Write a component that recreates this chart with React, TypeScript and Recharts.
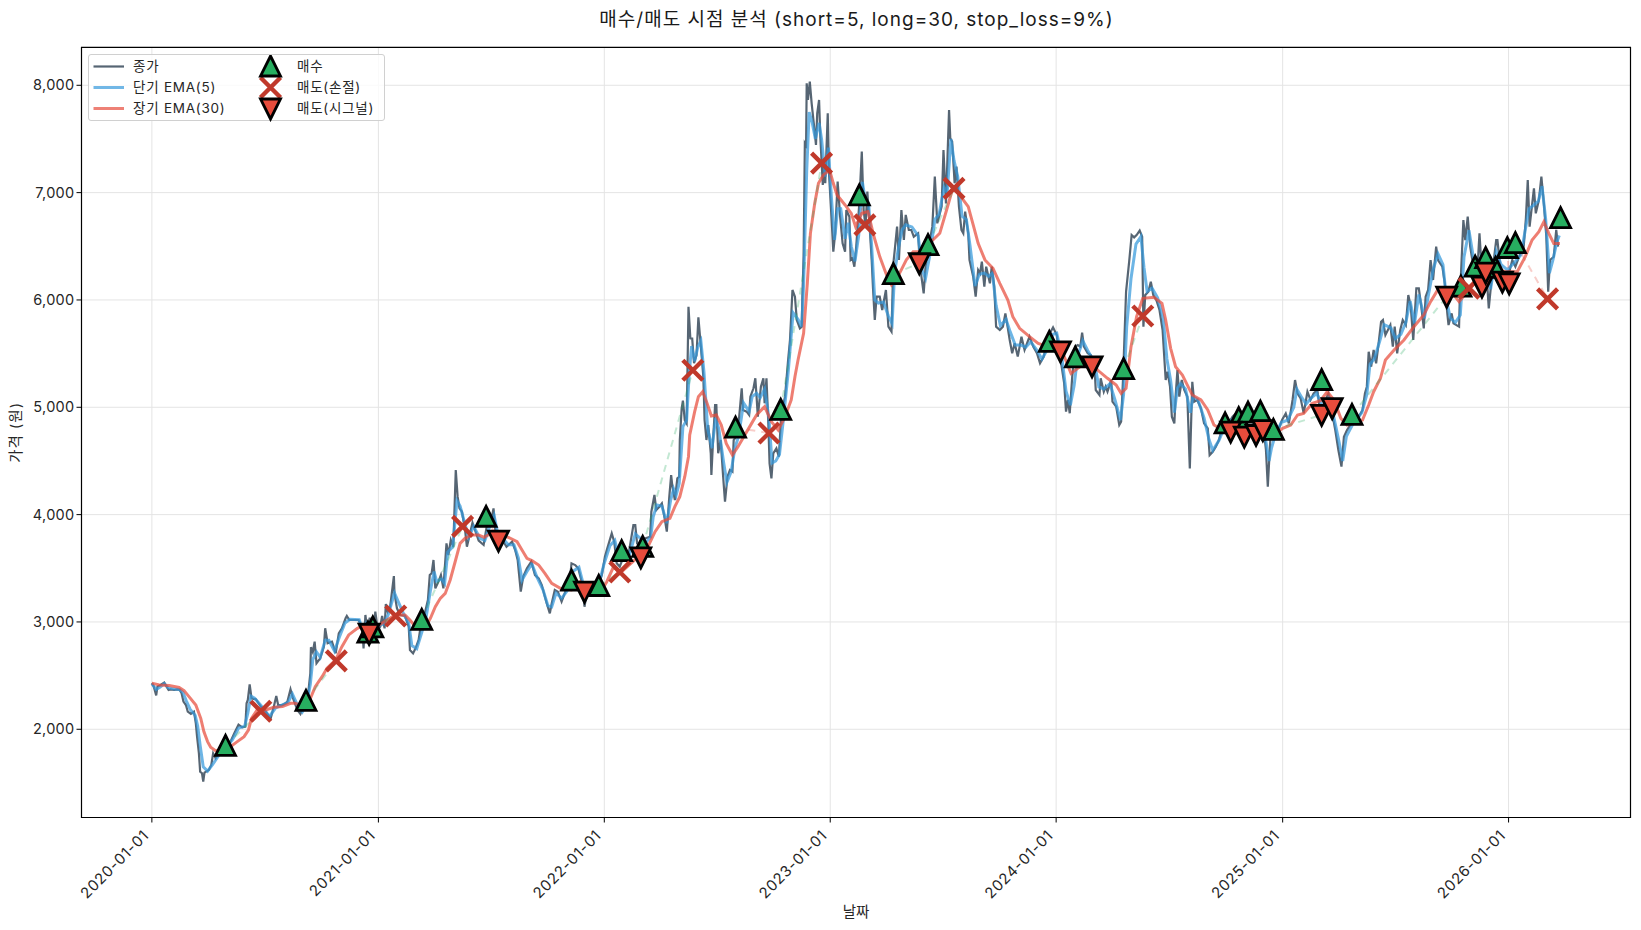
import React from 'react';
import { ComposedChart, Line, Scatter, XAxis, YAxis, CartesianGrid, ReferenceArea, Legend } from 'recharts';

type Pt = [number, number];
const toRows = (pts: Pt[]) => pts.map(([d, v]) => ({ d, v }));

const xTickDays = [0, 366, 731, 1096, 1461, 1827, 2192];
const xTickLabels = ['2020-01-01', '2021-01-01', '2022-01-01', '2023-01-01', '2024-01-01', '2025-01-01', '2026-01-01'];
const yTicks = [2000, 3000, 4000, 5000, 6000, 7000, 8000];

const closeSeries: Pt[] = [
[0,2430],[3,2400],[7,2316],[9,2397],[14,2413],[20,2435],[23,2404],[27,2366],[30,2372],[36,2366],[41,2372],[45,2366],[48,2335],[51,2258],[55,2226],[58,2164],[63,2143],[68,2164],[71,2056],[73,1931],[76,1776],[78,1605],[81,1590],[83,1512],[85,1596],[92,1621],[96,1667],[99,1776],[103,1730],[111,1807],[119,1838],[127,1885],[133,1962],[140,2043],[146,2018],[151,2025],[153,2242],[155,2273],[158,2419],[161,2289],[168,2279],[176,2211],[184,2164],[192,2102],[197,2211],[201,2310],[204,2226],[211,2226],[216,2242],[219,2258],[224,2372],[228,2289],[235,2180],[240,2143],[246,2242],[252,2304],[256,2522],[257,2764],[260,2720],[263,2817],[266,2615],[272,2661],[278,2770],[280,2941],[284,2801],[291,2817],[297,2708],[302,2894],[307,2941],[313,3034],[315,3056],[319,3018],[334,3018],[340,2941],[342,2754],[345,3065],[348,2920],[352,3040],[355,2940],[358,2870],
[361,3096],[365,2925],[369,2956],[372,3055],[376,2940],[378,3167],[381,3096],[385,3142],[391,3428],[392,3266],[396,3127],[401,3065],[409,3055],[415,2956],[417,2738],[422,2707],[426,2754],[431,2832],[435,2987],[441,3080],[446,3204],[449,3437],[452,3453],[455,3577],[458,3313],[463,3375],[467,3437],[471,3313],[476,3732],[479,3624],[483,3763],[487,3701],[491,4416],[494,4167],[497,4058],[501,4027],[506,3857],[509,3701],[514,3825],[518,3925],[522,3857],[528,3757],[536,3717],[541,3888],[547,3903],[552,4058],[556,3779],[561,3763],[568,3748],[573,3701],[582,3748],[587,3670],[591,3577],[596,3282],[600,3422],[606,3499],[613,3561],[619,3437],[625,3406],[630,3344],[635,3235],[638,3173],[643,3080],[646,3173],[651,3298],[656,3282],[662,3189],[669,3298],[674,3313],[678,3546],[684,3530],[689,3499],[695,3360],[699,3142],[703,3282],[711,3313],[719,3298],[727,3437],
[732,3608],[735,3670],[743,3825],[747,3748],[751,3546],[756,3515],[762,3608],[770,3624],[778,3903],[781,3903],[784,3732],[790,3701],[797,3779],[805,3794],[807,4027],[812,4183],[815,4043],[820,4074],[824,4105],[829,3950],[832,3841],[836,4167],[839,4369],[841,4260],[845,4136],[849,4338],[852,4353],[853,4695],[856,4990],[858,5062],[861,4881],[864,4850],[867,5937],[870,5642],[873,5640],[876,5410],[880,5487],[883,5838],[887,5565],[891,5285],[893,4881],[896,4695],[899,4835],[903,4571],[904,4369],[907,4726],[910,5021],[912,5021],[915,4571],[919,4695],[923,4353],[926,4120],[930,4353],[934,4416],[938,4400],[940,4695],[944,4726],[947,4788],[953,5177],[955,4975],[961,4959],[965,4928],[967,5099],[972,5177],[975,5270],[977,5099],[979,4913],[984,5192],[988,5270],[990,5037],[993,5270],[996,4850],[998,4478],[1001,4338],[1004,4571],[1009,4617],[1013,4540],[1017,4944],[1023,5099],[1028,5441],[1031,5627],[1035,6093],[1039,6031],[1042,5813],[1047,5736],
[1050,5751],[1051,6031],[1053,6404],[1055,7460],[1057,7440],[1058,8019],[1060,7863],[1063,8034],[1066,7832],[1070,7615],[1073,7444],[1075,7739],[1078,7863],[1080,7522],[1084,7071],[1086,7242],[1088,7087],[1092,7739],[1094,7180],[1098,6776],[1101,6450],[1104,6621],[1108,7103],[1112,6776],[1116,6528],[1120,6450],[1122,6838],[1127,6776],[1129,6373],[1132,6388],[1135,6310],[1138,6497],[1143,6901],[1147,7382],[1150,6838],[1153,6683],[1156,7009],[1159,6745],[1163,6373],[1165,6124],[1168,5813],[1171,6031],[1176,6031],[1180,5907],[1186,6093],[1190,5751],[1195,5705],[1198,6342],[1200,6450],[1204,6683],[1207,6373],[1211,6838],[1215,6559],[1218,6792],[1223,6652],[1227,6652],[1231,6590],[1238,6621],[1241,6310],[1243,6233],[1247,6062],[1250,6310],[1256,6528],[1261,6683],[1265,7149],[1269,6714],[1276,6870],[1279,7397],[1283,6900],[1288,7770],[1290,7506],[1293,7475],[1297,7087],[1300,7242],[1304,6870],[1308,6652],[1311,6621],[1314,6823],[1319,6621],[1321,6373],[1327,6217],[1331,6031],[1335,6279],[1338,6248],[1341,6357],[1345,6124],[1348,6310],[1354,6155],[1357,6310],[1361,6124],[1364,5751],[1370,5720],[1375,5751],[1379,5875],[1383,5736],[1386,5627],[1390,5503],[1394,5596],[1399,5472],[1405,5658],[1410,5534],[1418,5658],[1424,5565],[1430,5503],[1435,5410],[1441,5472],[1448,5658],
[1456,5745],[1462,5673],[1466,5503],[1470,5378],[1474,5223],[1477,4959],[1480,5068],[1483,4944],[1487,5285],[1492,5565],[1496,5580],[1500,5565],[1503,5695],[1506,5565],[1512,5503],[1517,5487],[1523,5378],[1525,5161],[1531,5114],[1533,5270],[1538,5145],[1541,5192],[1544,5145],[1550,5254],[1552,5052],[1558,5006],[1563,4835],[1566,4866],[1569,5254],[1574,6077],[1579,6357],[1583,6605],[1587,6583],[1591,6605],[1596,6646],[1600,6590],[1602,5751],[1605,6046],[1610,6077],[1614,6170],[1618,6046],[1623,5999],[1628,5906],[1633,5720],[1638,5254],[1641,5332],[1645,5192],[1648,4912],[1652,4850],[1654,5099],[1657,5347],[1660,5099],[1664,5254],[1668,5161],[1673,5099],[1677,4431],[1681,5238],[1684,5052],[1689,5068],[1695,4990],[1700,4850],[1706,4804],[1709,4555],[1714,4586],[1719,4633],[1724,4695],[1730,4820],[1738,4835],[1746,4912],[1757,4975],[1767,4912],[1773,4881],[1781,4850],[1789,4820],[1797,4757],[1800,4602],[1803,4260],[1807,4695],[1813,4757],[1821,4804],
[1826,4881],[1832,4943],[1837,4850],[1843,5068],[1847,5254],[1851,5130],[1856,5083],[1861,4943],[1867,5145],[1872,5068],[1877,5130],[1883,5161],[1888,4943],[1894,5037],[1901,5130],[1907,4943],[1912,4788],[1917,4602],[1922,4447],[1926,4726],[1931,4788],[1938,4850],[1947,4881],[1956,4974],[1960,5130],[1963,5192],[1966,5518],[1970,5378],[1974,5534],[1978,5409],[1982,5596],[1986,5797],[1989,5813],[1993,5673],[2001,5766],[2005,5565],[2008,5751],[2012,5502],[2017,5720],[2021,5813],[2026,5766],[2030,6046],[2034,5937],[2038,5627],[2043,6108],[2047,6108],[2051,5937],[2055,5735],[2058,6031],[2062,6093],[2066,6372],[2070,6186],[2075,6496],[2078,6372],[2085,6310],[2089,6155],[2093,5875],[2095,5766],[2100,5875],[2103,5782],[2112,5751],[2113,5968],[2119,6745],[2122,6558],[2126,6776],[2130,6496],[2136,6279],[2141,6217],[2145,6621],[2149,6248],[2155,6372],[2160,5922],[2165,6217],[2172,6558],[2174,6558],[2179,6279],[2187,6248],[2194,6279],[2198,6372],[2203,6310],[2211,6434],[2216,6465],[2220,6760],[2223,7118],[2226,6683],[2233,7040],[2236,6807],[2241,6931],[2245,7149],[2249,6900],[2253,6590],[2256,6077],[2259,6372],[2265,6403],[2269,6652],[2272,6496]];

const ema5Series: Pt[] = [
[0,2425],[7,2370],[14,2395],[20,2425],[27,2385],[36,2375],[45,2370],[50,2345],[56,2260],[62,2185],[70,2130],[74,2030],[78,1850],[83,1650],[90,1610],[98,1670],[105,1730],[112,1790],[120,1830],[130,1900],[140,2010],[150,2030],[155,2150],[160,2310],[166,2290],[176,2225],[190,2120],[200,2200],[210,2225],[220,2250],[227,2330],[236,2215],[243,2160],[250,2230],[256,2420],[260,2650],[266,2720],[272,2670],[280,2830],[286,2830],[295,2730],[303,2860],[312,2990],[320,3025],[335,3020],[343,2890],[347,2990],[354,2960],[360,2920],[368,2970],[375,2980],[382,3070],[392,3270],[398,3190],[408,3060],[415,2990],[420,2780],[428,2750],[436,2900],[443,3040],[450,3290],[456,3470],[460,3380],[468,3400],[473,3360],[478,3650],[486,3700],[493,4130],[498,4080],[506,3910],[512,3790],[520,3890],[530,3780],[538,3760],[544,3860],[553,3990],[558,3850],[568,3770],[576,3720],[585,3720],[592,3600],[598,3390],[606,3470],[614,3540],[622,3420],[632,3300],[640,3150],[646,3140],[653,3270],[662,3220],[671,3290],[680,3470],[690,3510],[698,3330],[705,3260],[720,3300],[730,3530],[740,3710],[748,3760],[755,3580],[762,3590],[772,3630],[781,3820],[787,3790],[798,3740],[806,3790],[810,3980],[816,4090],[824,4080],[832,3920],[838,4130],[843,4240],[847,4180],[852,4290],[858,4820],[864,4880],[868,5300],[872,5570],[877,5430],[882,5560],[887,5620],[892,5330],[898,4800],[905,4620],[911,4900],[916,4800],[924,4480],[929,4300],[936,4400],[942,4620],[948,4730],[956,5040],[965,4960],[970,5100],[977,5130],[983,5090],[990,5170],[997,4900],[1002,4480],[1008,4500],[1014,4560],[1020,4870],[1028,5320],[1036,5880],[1044,5820],[1050,5750],[1053,6150],[1058,7200],[1062,7750],[1067,7650],[1072,7500],[1078,7650],[1082,7500],[1088,7150],[1093,7420],[1098,6950],[1103,6560],[1108,6850],[1113,6850],[1120,6570],[1125,6720],[1130,6500],[1136,6360],[1142,6600],[1148,7100],[1152,6950],[1158,6900],[1163,6500],[1168,6000],[1174,5970],[1182,5980],[1190,5850],[1196,5780],[1200,6250],[1206,6480],[1212,6650],[1218,6700],[1228,6680],[1238,6600],[1245,6270],[1250,6200],[1258,6450],[1265,6750],[1272,6800],[1280,7050],[1285,7000],[1291,7500],[1296,7300],[1302,7150],[1309,6780],[1316,6750],[1322,6500],[1330,6130],[1337,6240],[1345,6250],[1352,6220],[1358,6250],[1364,5950],[1371,5760],[1380,5820],[1387,5700],[1395,5580],[1404,5580],[1412,5560],[1420,5610],[1430,5530],[1438,5450],[1445,5520],[1456,5680],[1462,5690],[1470,5480],[1477,5150],[1484,5020],[1490,5200],[1496,5480],[1504,5620],[1512,5530],[1523,5420],[1530,5190],[1538,5170],[1548,5220],[1556,5070],[1565,4880],[1570,5120],[1575,5750],[1582,6200],[1590,6520],[1598,6590],[1603,6300],[1608,6080],[1616,6110],[1625,6020],[1634,5830],[1640,5450],[1646,5250],[1652,4950],[1657,5180],[1662,5220],[1670,5170],[1678,4950],[1682,5100],[1690,5070],[1700,4900],[1708,4700],[1714,4600],[1724,4690],[1732,4800],[1745,4880],[1757,4950],[1768,4900],[1782,4850],[1792,4800],[1800,4680],[1805,4500],[1809,4620],[1815,4740],[1825,4860],[1835,4880],[1845,5000],[1850,5170],[1858,5090],[1865,5030],[1872,5080],[1882,5130],[1892,5000],[1902,5090],[1910,4900],[1918,4680],[1924,4500],[1930,4730],[1940,4840],[1955,4950],[1963,5120],[1968,5400],[1975,5450],[1984,5620],[1991,5770],[2002,5740],[2009,5640],[2018,5680],[2026,5790],[2033,5990],[2040,5780],[2047,6050],[2056,5830],[2063,6060],[2070,6280],[2078,6430],[2086,6330],[2092,5990],[2098,5830],[2106,5790],[2114,5860],[2120,6400],[2128,6650],[2135,6400],[2142,6250],[2148,6400],[2156,6300],[2163,6100],[2172,6450],[2180,6330],[2190,6280],[2200,6340],[2212,6420],[2218,6620],[2225,6850],[2232,6880],[2240,6920],[2246,7060],[2252,6750],[2258,6250],[2264,6380],[2270,6540],[2274,6600]];

const ema30Series: Pt[] = [
[0,2430],[12,2413],[28,2407],[44,2391],[52,2360],[60,2304],[71,2226],[79,2102],[84,1978],[90,1885],[95,1832],[103,1801],[111,1807],[127,1838],[138,1885],[149,1931],[156,1993],[161,2102],[170,2180],[184,2180],[197,2205],[211,2211],[224,2242],[232,2242],[243,2211],[254,2258],[264,2397],[275,2490],[283,2568],[297,2646],[307,2770],[318,2879],[332,2941],[345,2972],[367,2972],[393,3065],[409,3065],[417,3018],[428,2940],[442,2956],[450,3034],[458,3142],[466,3220],[474,3266],[482,3391],[490,3561],[498,3732],[506,3779],[517,3810],[528,3810],[537,3788],[547,3825],[560,3825],[576,3788],[590,3748],[598,3670],[606,3593],[614,3571],[625,3530],[635,3453],[646,3360],[660,3313],[678,3298],[692,3375],[705,3282],[719,3266],[727,3298],[735,3375],[746,3515],[756,3453],[783,3592],[799,3670],[813,3841],[824,3934],[837,3965],[845,4074],[853,4167],[861,4353],[867,4540],[869,4742],[877,4959],[883,5099],[890,5145],[897,5037],[904,4919],[912,4928],[920,4835],[928,4664],[938,4555],[947,4633],[958,4742],[969,4850],[977,4928],[990,5006],[1001,4866],[1012,4788],[1023,4913],[1033,5068],[1039,5285],[1044,5441],[1053,5689],[1059,6155],[1064,6621],[1071,6900],[1077,7087],[1085,7165],[1095,7211],[1101,7087],[1107,6978],[1120,6885],[1130,6807],[1137,6683],[1147,6807],[1157,6823],[1166,6605],[1176,6404],[1187,6233],[1195,6140],[1208,6248],[1219,6373],[1230,6450],[1246,6450],[1259,6543],[1273,6621],[1284,6838],[1294,7040],[1305,6978],[1319,6870],[1327,6699],[1335,6528],[1346,6373],[1359,6295],[1370,6155],[1383,5999],[1391,5844],[1402,5736],[1418,5658],[1432,5596],[1450,5560],[1472,5503],[1485,5316],[1496,5363],[1515,5440],[1528,5347],[1544,5270],[1558,5207],[1566,5130],[1574,5176],[1582,5565],[1591,5844],[1601,6015],[1619,6024],[1632,5968],[1638,5813],[1646,5549],[1654,5378],[1665,5301],[1681,5114],[1695,5068],[1706,4975],[1716,4835],[1730,4788],[1751,4804],[1773,4788],[1794,4773],[1816,4757],[1827,4804],[1840,4835],[1851,4928],[1861,4943],[1875,5037],[1888,5061],[1899,5145],[1910,5068],[1921,4897],[1931,4835],[1956,4881],[1966,5021],[1974,5145],[1985,5270],[1993,5440],[2007,5534],[2023,5627],[2039,5751],[2055,5860],[2066,5984],[2079,6108],[2095,6108],[2112,5984],[2128,6093],[2144,6217],[2165,6295],[2187,6263],[2206,6263],[2219,6403],[2230,6559],[2241,6636],[2249,6729],[2257,6621],[2265,6527],[2275,6527]];

const buyPoints: Pt[] = [
[119,1846],[249,2265],[349,2900],[357,2950],[436,3020],[540,3980],[678,3385],[722,3335],[759,3660],[793,3700],[943,4810],[1016,4975],[1143,6975],[1198,6240],[1254,6510],[1450,5610],[1492,5465],[1570,5355],[1734,4851],[1756,4900],[1771,4950],[1791,4960],[1812,4790],[1890,5254],[1939,4929],[2115,6124],[2138,6310],[2155,6390],[2171,6298],[2190,6484],[2203,6530],[2276,6763]];
const stopPoints: Pt[] = [
[176,2168],[298,2637],[394,3056],[502,3890],[756,3465],[874,5345],[997,4760],[1082,7275],[1152,6700],[1296,7040],[1601,5850],[2128,6110],[2255,6010]];
const signalPoints: Pt[] = [
[351,2890],[560,3757],[699,3282],[790,3602],[1240,6342],[1468,5520],[1519,5382],[1743,4773],[1765,4726],[1784,4742],[1795,4788],[1890,4929],[1907,4992],[2092,6031],[2149,6124],[2155,6254],[2182,6170],[2193,6155]];

const sells = [...stopPoints, ...signalPoints].sort((a, b) => a[0] - b[0]);
const trades = buyPoints.map((b) => {
  const s = sells.find((p) => p[0] > b[0]);
  return s ? { rows: toRows([b, s]), win: s[1] >= b[1] } : null;
}).filter(Boolean) as { rows: { d: number; v: number }[]; win: boolean }[];

const FONT = 'Inter, "Noto Sans CJK KR", sans-serif';
const CLOSE = '#2c3e50', SHORT = '#3498db', LONG = '#e74c3c', BUY = '#27ae60', STOP = '#c0392b', SIG = '#e74c3c';

const Up = (p: any) => <path d={`M${p.cx},${p.cy - 10.5}L${p.cx + 10},${p.cy + 9.5}L${p.cx - 10},${p.cy + 9.5}Z`} fill={BUY} stroke="#000" strokeWidth={2.8} />;
const Down = (p: any) => <path d={`M${p.cx},${p.cy + 10.5}L${p.cx + 10},${p.cy - 9.5}L${p.cx - 10},${p.cy - 9.5}Z`} fill={SIG} stroke="#000" strokeWidth={2.8} />;
const Cross = (p: any) => <path d={`M${p.cx - 10},${p.cy - 10}L${p.cx + 10},${p.cy + 10}M${p.cx + 10},${p.cy - 10}L${p.cx - 10},${p.cy + 10}`} fill="none" stroke={STOP} strokeWidth={4.4} />;

const XTick = (p: any) => {
  const label = xTickLabels[xTickDays.indexOf(p.payload.value)];
  return <text x={p.x} y={p.y} transform={`rotate(-45 ${p.x} ${p.y})`} textAnchor="end" dx={-10} dy={7} fontSize={15} letterSpacing={0.7} fontFamily={FONT} fill="#262626">{label}</text>;
};

const LegendBox = () => {
  const row = (y: number) => ({ position: 'absolute' as const, top: y, whiteSpace: 'nowrap' as const, lineHeight: '16px' });
  return (
    <div style={{ position: 'relative', width: 297, height: 67, background: 'rgba(255,255,255,0.8)', border: '1px solid #d0d0d0', borderRadius: 3, boxSizing: 'border-box', fontFamily: FONT, fontSize: 13.5, letterSpacing: 0.75, color: '#262626' }}>
      <svg width={297} height={67} style={{ position: 'absolute', left: 0, top: 0 }}>
        <line x1={4.5} x2={35} y1={11.5} y2={11.5} stroke={CLOSE} strokeOpacity={0.8} strokeWidth={2.2} />
        <line x1={4.5} x2={35} y1={32.5} y2={32.5} stroke={SHORT} strokeOpacity={0.7} strokeWidth={3} />
        <line x1={4.5} x2={35} y1={53.5} y2={53.5} stroke={LONG} strokeOpacity={0.7} strokeWidth={3} />
        <Cross cx={181.5} cy={32.5} />
        <Up cx={181.5} cy={11.5} />
        <Down cx={181.5} cy={53.5} />
      </svg>
      <span style={{ ...row(3), left: 44 }}>종가</span>
      <span style={{ ...row(24), left: 44 }}>단기 EMA(5)</span>
      <span style={{ ...row(45), left: 44 }}>장기 EMA(30)</span>
      <span style={{ ...row(3), left: 208 }}>매수</span>
      <span style={{ ...row(24), left: 208 }}>매도(손절)</span>
      <span style={{ ...row(45), left: 208 }}>매도(시그널)</span>
    </div>
  );
};

export default function App() {
  return (
    <div style={{ position: 'absolute', left: 0, top: 0, width: 1641, height: 930, background: '#fff' }}>
      <ComposedChart width={1641} height={930} margin={{ left: 21.5, right: 10.5, top: 47.3, bottom: 32.5 }}>
        <text x={856.5} y={26} textAnchor="middle" fontSize={19} letterSpacing={1} fontFamily={FONT} fill="#1a1a1a">매수/매도 시점 분석 (short=5, long=30, stop_loss=9%)</text>
        <CartesianGrid stroke="#e4e4e4" strokeWidth={1} horizontalValues={yTicks} />
        <XAxis type="number" dataKey="d" domain={[-113.7, 2389]} allowDataOverflow ticks={xTickDays} height={80} tick={<XTick />} tickSize={5} stroke="#000" interval={0}
          label={{ value: '날짜', position: 'insideBottom', offset: -19, fontSize: 14.5, fontFamily: FONT, fill: '#262626' }} />
        <YAxis type="number" dataKey="v" domain={[1178, 8354]} allowDataOverflow ticks={yTicks} width={60} tickSize={5} stroke="#000" interval={0}
          tick={{ fontSize: 14.5, fontFamily: FONT, fill: '#262626', letterSpacing: 0.3 }} tickFormatter={(v: number) => v.toLocaleString('en-US')}
          label={{ value: '가격 (원)', angle: -90, position: 'insideLeft', offset: -6, fontSize: 14.5, letterSpacing: 1, textAnchor: 'middle', fontFamily: FONT, fill: '#262626' }} />
        <Line data={toRows(closeSeries)} dataKey="v" name="종가" stroke={CLOSE} strokeOpacity={0.8} strokeWidth={2.2} dot={false} isAnimationActive={false} type="linear" />
        <Line data={toRows(ema5Series)} dataKey="v" name="단기 EMA(5)" stroke={SHORT} strokeOpacity={0.72} strokeWidth={3} dot={false} isAnimationActive={false} type="linear" />
        <Line data={toRows(ema30Series)} dataKey="v" name="장기 EMA(30)" stroke={LONG} strokeOpacity={0.72} strokeWidth={3} dot={false} isAnimationActive={false} type="linear" />
        {trades.map((t, i) => (
          <Line key={i} data={t.rows} dataKey="v" stroke={t.win ? BUY : LONG} strokeOpacity={0.28} strokeWidth={2} strokeDasharray="7 6" dot={false} isAnimationActive={false} legendType="none" />
        ))}
        <Scatter data={toRows(buyPoints)} name="매수" shape={Up} isAnimationActive={false} />
        <Scatter data={toRows(stopPoints)} name="매도(손절)" shape={Cross} isAnimationActive={false} />
        <Scatter data={toRows(signalPoints)} name="매도(시그널)" shape={Down} isAnimationActive={false} />
        <ReferenceArea x1={-113.7} x2={2389} y1={1178} y2={8354} fill="none" stroke="#000" strokeWidth={1.2} ifOverflow="visible" />
        <Legend layout="horizontal" verticalAlign="middle" align="center" content={<LegendBox />} wrapperStyle={{ position: 'absolute', left: 88, top: 54, width: 297, height: 67, bottom: 'auto', right: 'auto' }} />
      </ComposedChart>
    </div>
  );
}
